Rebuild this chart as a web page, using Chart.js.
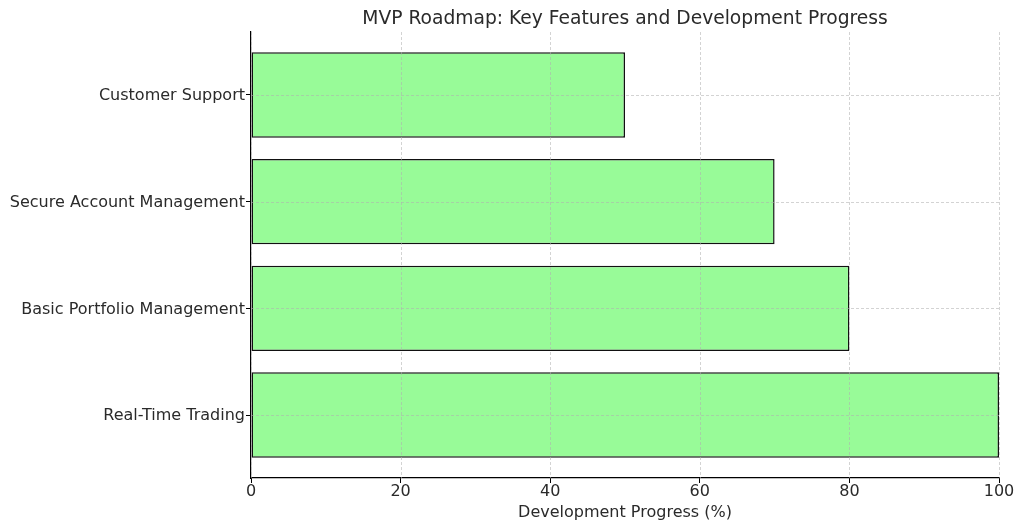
<!DOCTYPE html>
<html>
<head>
<meta charset="utf-8">
<script src="https://cdn.jsdelivr.net/npm/chart.js@4.4.1/dist/chart.umd.min.js"></script>
<style>
  html, body { margin: 0; padding: 0; background: #fff; }
  #wrap { width: 1024px; height: 530px; position: relative; }
</style>
</head>
<body>
<div id="wrap"><canvas id="c" width="1024" height="530"></canvas></div>
<script>
const titleText = 'MVP Roadmap: Key Features and Development Progress';
const xAxisTitle = 'Development Progress (%)';
const categories = ['Real-Time Trading', 'Basic Portfolio Management', 'Secure Account Management', 'Customer Support'];
const progress = [100, 80, 70, 50];
const xTickValues = [0, 20, 40, 60, 80, 100];

const FONT = '"DejaVu Sans", "Liberation Sans", sans-serif';
const TEXT = '#2a2a2a';

const gridOverPlugin = {
  id: 'gridOver',
  afterDatasetsDraw(chart) {
    const { ctx, chartArea, scales } = chart;
    ctx.save();
    ctx.strokeStyle = 'rgba(176,176,176,0.7)';
    ctx.lineWidth = 0.8;
    ctx.setLineDash([3, 2]);
    scales.x.ticks.forEach(t => {
      const px = Math.round(scales.x.getPixelForValue(t.value)) + 0.5;
      ctx.beginPath(); ctx.moveTo(px, chartArea.top); ctx.lineTo(px, chartArea.bottom); ctx.stroke();
    });
    scales.y.ticks.forEach(t => {
      const py = Math.round(scales.y.getPixelForValue(t.value)) + 0.5;
      ctx.beginPath(); ctx.moveTo(chartArea.left, py); ctx.lineTo(chartArea.right, py); ctx.stroke();
    });
    ctx.restore();
  }
};

const titlePlugin = {
  id: 'centeredTitle',
  afterDraw(chart) {
    const { ctx, chartArea } = chart;
    ctx.save();
    ctx.font = '18.7px ' + FONT;
    ctx.fillStyle = TEXT;
    ctx.textAlign = 'center';
    ctx.textBaseline = 'alphabetic';
    ctx.fillText(titleText, (chartArea.left + chartArea.right) / 2, 24);
    ctx.restore();
  }
};

new Chart(document.getElementById('c'), {
  type: 'bar',
  data: {
    datasets: [{
      data: progress.map((v, i) => ({ x: v, y: i })),
      backgroundColor: '#98FB98',
      borderColor: '#111111',
      borderWidth: 1.5,
      borderSkipped: false,
      barPercentage: 0.8,
      categoryPercentage: 1.0
    }]
  },
  options: {
    indexAxis: 'y',
    responsive: false,
    animation: false,
    layout: { padding: { left: 0, right: 25, top: 32, bottom: 0 } },
    plugins: {
      legend: { display: false },
      tooltip: { enabled: false },
      title: { display: false }
    },
    scales: {
      x: {
        type: 'linear',
        min: 0,
        max: 100,
        offset: false,
        afterBuildTicks: (s) => { s.ticks = xTickValues.map(v => ({ value: v })); },
        afterFit: (s) => { s.height = 52; },
        grid: { offset: false, drawOnChartArea: false, drawTicks: true, tickLength: 5, tickColor: '#000', tickWidth: 1 },
        border: { display: true, color: '#000', width: 1.2 },
        ticks: { color: TEXT, font: { family: FONT, size: 16, lineHeight: 1 }, padding: 1 },
        title: { display: true, text: xAxisTitle, color: TEXT, font: { family: FONT, size: 16, lineHeight: 1.2 }, padding: { top: 0, bottom: 8 } }
      },
      y: {
        type: 'linear',
        min: -0.59,
        max: 3.59,
        offset: false,
        afterBuildTicks: (s) => { s.ticks = categories.map((c, i) => ({ value: i })); },
        afterFit: (s) => { s.width = 251; },
        grid: { offset: false, drawOnChartArea: false, drawTicks: true, tickLength: 5, tickColor: '#000', tickWidth: 1 },
        border: { display: true, color: '#000', width: 1.2 },
        ticks: { color: TEXT, font: { family: FONT, size: 16 }, padding: 1, labelOffset: 1, callback: (v) => categories[v] }
      }
    }
  },
  plugins: [gridOverPlugin, titlePlugin]
});
</script>
</body>
</html>
